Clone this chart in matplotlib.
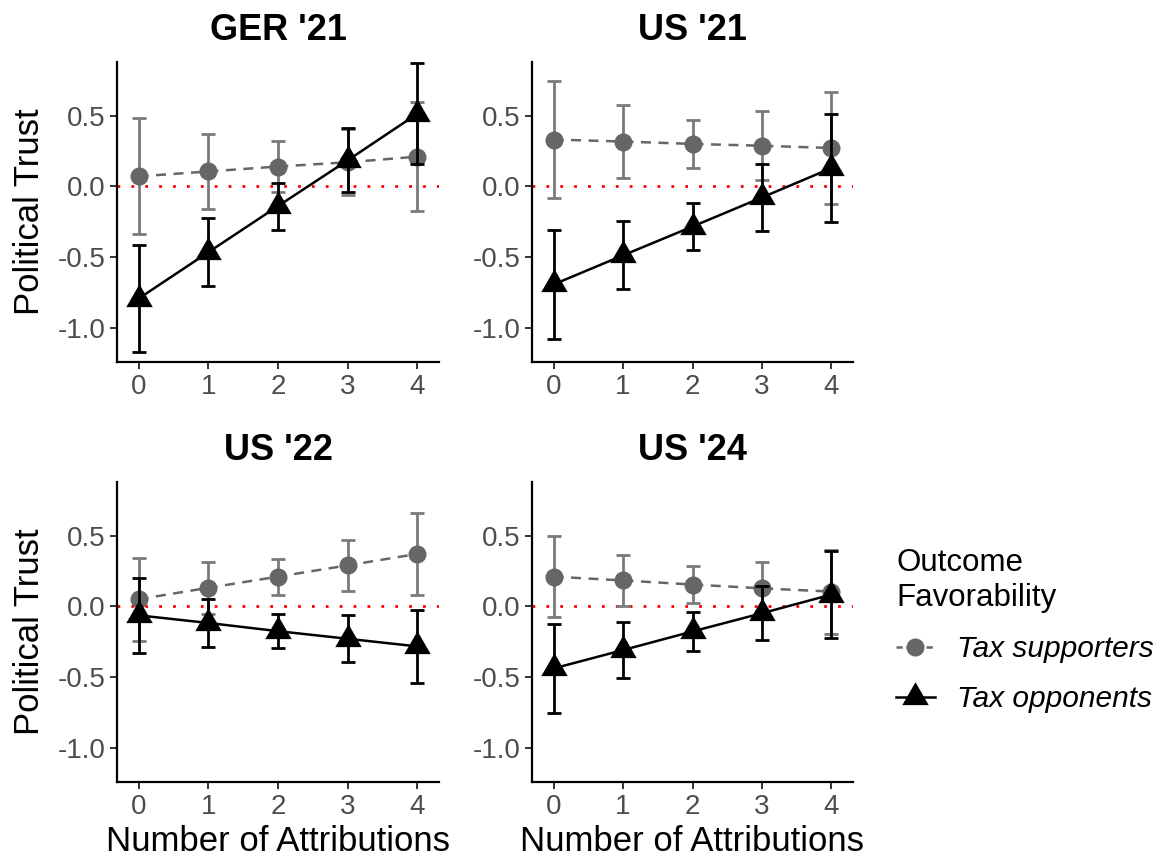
import numpy as np
import matplotlib
matplotlib.use('Agg')
import matplotlib.pyplot as plt
from matplotlib.lines import Line2D

plt.rcParams['font.family'] = ['Liberation Sans', 'DejaVu Sans']

# donnees
attributions = [0, 1, 2, 3, 4]
panels = ["GER '21", "US '21", "US '22", "US '24"]

sup_mean = {"GER '21": [0.07, 0.105, 0.14, 0.17, 0.21],
            "US '21": [0.331, 0.317, 0.30, 0.287, 0.271],
            "US '22": [0.05, 0.131, 0.21, 0.29, 0.371],
            "US '24": [0.21, 0.183, 0.154, 0.127, 0.104]}
sup_err = {"GER '21": [0.41, 0.265, 0.183, 0.235, 0.386],
           "US '21": [0.416, 0.26, 0.172, 0.245, 0.396],
           "US '22": [0.293, 0.186, 0.128, 0.18, 0.291],
           "US '24": [0.286, 0.181, 0.133, 0.187, 0.297]}
opp_mean = {"GER '21": [-0.795, -0.467, -0.14, 0.184, 0.514],
            "US '21": [-0.695, -0.489, -0.285, -0.079, 0.129],
            "US '22": [-0.064, -0.118, -0.176, -0.23, -0.284],
            "US '24": [-0.44, -0.31, -0.178, -0.049, 0.083]}
opp_err = {"GER '21": [0.378, 0.24, 0.166, 0.227, 0.358],
           "US '21": [0.385, 0.241, 0.167, 0.238, 0.382],
           "US '22": [0.267, 0.17, 0.12, 0.165, 0.26],
           "US '24": [0.315, 0.199, 0.139, 0.193, 0.31]}

yticks = [-1.0, -0.5, 0.0, 0.5]
ytick_labels = ['-1.0', '-0.5', '0.0', '0.5']
legend_labels = ['Tax supporters', 'Tax opponents']

W, H = 1160, 858
grey = '#666666'
grey_err = '#7a7a7a'
# triangle equilateral centre sur son centre de gravite
tri = [(-1, -0.577), (1, -0.577), (0, 1.155)]

def px_axes(left, top, right, bottom):
    return [left / W, 1 - bottom / H, (right - left) / W, (bottom - top) / H]

boxes = [px_axes(117, 62, 439, 362), px_axes(532, 62, 853, 362),
         px_axes(117, 482, 439, 782), px_axes(532, 482, 853, 782)]

fig = plt.figure(figsize=(W / 100, H / 100), dpi=100)

for k, name in enumerate(panels):
    ax = fig.add_axes(boxes[k])
    ax.axhline(0, color='red', linestyle=(0, (1, 4)), linewidth=2, zorder=1)
    # supporters
    ax.errorbar(attributions, sup_mean[name], yerr=sup_err[name], fmt='none',
                ecolor=grey_err, elinewidth=2, capsize=4.7, capthick=2, zorder=2)
    ax.plot(attributions, sup_mean[name], color=grey, linestyle='--', dashes=(4, 3),
            linewidth=1.8, marker='o', markersize=13, markeredgewidth=0, zorder=3)
    # opponents
    ax.errorbar(attributions, opp_mean[name], yerr=opp_err[name], fmt='none',
                ecolor='black', elinewidth=2, capsize=4.7, capthick=2, zorder=4)
    ax.plot(attributions, opp_mean[name], color='black', linewidth=1.8,
            marker=tri, markersize=22, markeredgewidth=0, zorder=5)

    ax.set_xlim(-0.31, 4.31)
    ax.set_ylim(-1.244, 0.88)
    ax.set_xticks(attributions)
    ax.set_yticks(yticks)
    ax.set_yticklabels(ytick_labels)
    ax.tick_params(labelsize=20, labelcolor='#4D4D4D', color='#333333',
                   length=5, width=1.4)
    for s in ['top', 'right']:
        ax.spines[s].set_visible(False)
    for s in ['left', 'bottom']:
        ax.spines[s].set_linewidth(1.6)
    ax.set_title(name, fontsize=26, fontweight='bold', pad=16)
    if k % 2 == 0:
        ax.set_ylabel('Political Trust', fontsize=25, labelpad=8)
    if k >= 2:
        ax.set_xlabel('Number of Attributions', fontsize=25, labelpad=4)

handles = [Line2D([], [], color=grey, linestyle='--', dashes=(2.5, 1.5), linewidth=1.8,
                  marker='o', markersize=13, markeredgewidth=0),
           Line2D([], [], color='black', linewidth=1.8, marker=tri,
                  markersize=22, markeredgewidth=0)]
leg = fig.legend(handles, legend_labels, title='Outcome\nFavorability',
                 loc='upper left', bbox_to_anchor=(896 / W, 1 - 548 / H),
                 frameon=False, fontsize=21.5, title_fontsize=22.5,
                 alignment='left', handlelength=1.3, labelspacing=0.75,
                 handletextpad=0.75, borderpad=0, borderaxespad=0)
for t in leg.get_texts():
    t.set_fontstyle('italic')

plt.savefig('out.png', dpi=100)
